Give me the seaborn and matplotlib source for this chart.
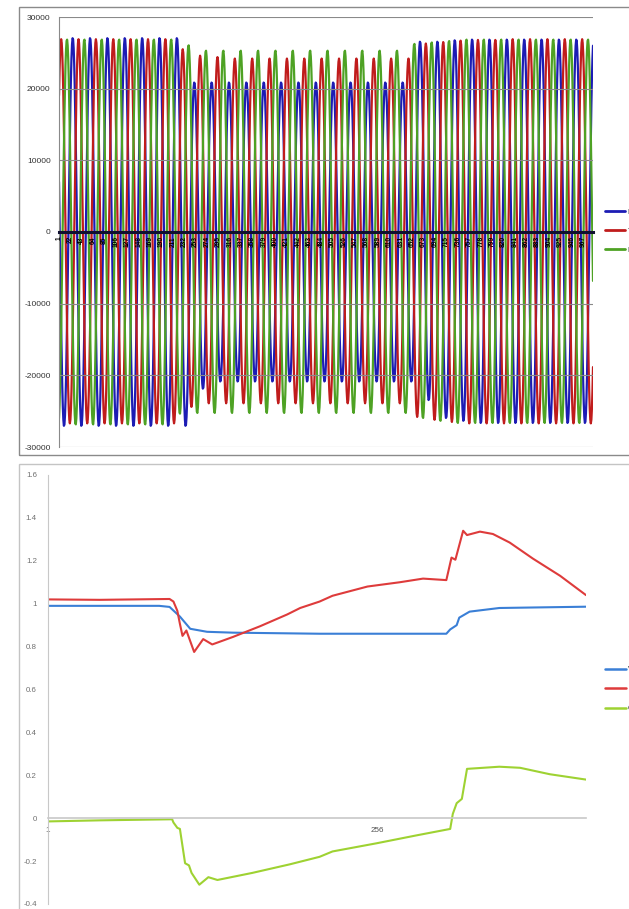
import numpy as np
import pandas as pd
import matplotlib
matplotlib.use("Agg")
import matplotlib.pyplot as plt
import seaborn as sns
from matplotlib.patches import Rectangle

# ---------------- top chart data (three-phase waveform) ----------------
N_SAMPLES = 985
HALF_CYCLE = 16                       # samples between a peak and the next trough
PHASE_LABELS = ["R", "Y", "B"]
PHASE_COLORS = ["#1c1cb4", "#c01c1c", "#4ea224"]
FIRST_PEAK = [26.33, 5.0, 15.67]      # sample of first positive peak, per phase

# positive peak / negative trough value of every cycle (31 cycles)
R_PEAKS = [27100] * 7 + [20900] * 13 + [26600, 26600, 26800] + [26900] * 8
R_TROUGHS = [-27100] * 7 + [-21900] + [-20900] * 12 + [-23500, -26000, -26400] + [-26700] * 8
Y_PEAKS = [26900] * 7 + [25500, 24600, 24400] + [24200] * 11 + [26300, 26500, 26700, 26800, 26800] + [26900] * 5
Y_TROUGHS = [-26700] * 7 + [-24400] + [-23900] * 12 + [-25800, -26200, -26500] + [-26700] * 8
B_PEAKS = [26900] * 7 + [26100] + [25350] * 12 + [26300, 26500, 26700] + [26900] * 8
B_TROUGHS = [-26900] * 6 + [-25400] + [-25300] * 13 + [-26000, -26400] + [-26700] * 9

TOP_XTICKS = [1, 22, 43, 64, 85, 106, 127, 148, 169, 190, 211, 232, 253, 274, 295, 316,
              337, 358, 379, 400, 421, 442, 463, 484, 505, 526, 547, 568, 589, 610, 631,
              652, 673, 694, 715, 736, 757, 778, 799, 820, 841, 862, 883, 904, 925, 946, 967]
TOP_YTICKS = [-30000, -20000, -10000, 0, 10000, 20000, 30000]

# ---------------- bottom chart data ----------------
BOT_LABELS = ["V", "P", "Q"]
BOT_COLORS = ["#3a7fd6", "#de3b3b", "#9ed232"]
V_X = [1, 87, 95, 103, 111, 124, 144, 211, 309, 312, 317, 319, 327, 350, 417]
V_Y = [0.99, 0.99, 0.985, 0.94, 0.883, 0.869, 0.865, 0.86, 0.86, 0.88, 0.90, 0.935, 0.963, 0.98, 0.986]
P_X = [1, 41, 95, 98, 101, 103, 105, 108, 114, 121, 128, 144, 165, 186, 196, 211, 221,
       248, 273, 291, 309, 313, 316, 322, 325, 335, 345, 358, 376, 397, 417]
P_Y = [1.02, 1.018, 1.022, 1.01, 0.967, 0.906, 0.85, 0.875, 0.775, 0.835, 0.81, 0.845, 0.895,
       0.95, 0.98, 1.01, 1.037, 1.08, 1.10, 1.117, 1.11, 1.215, 1.205, 1.34, 1.32, 1.336,
       1.325, 1.285, 1.21, 1.13, 1.04]
Q_X = [1, 41, 97, 98, 101, 103, 104, 107, 110, 112, 118, 125, 132, 159, 188, 211, 221,
       255, 286, 312, 314, 317, 321, 325, 350, 366, 389, 417]
Q_Y = [-0.015, -0.01, -0.005, -0.02, -0.045, -0.05, -0.09, -0.21, -0.22, -0.255, -0.31,
       -0.275, -0.288, -0.255, -0.215, -0.18, -0.155, -0.117, -0.08, -0.05, 0.02, 0.07,
       0.09, 0.23, 0.24, 0.235, 0.205, 0.18]
BOT_XTICKS = [1, 256]
BOT_YTICKS = [-0.4, -0.2, 0, 0.2, 0.4, 0.6, 0.8, 1, 1.2, 1.4, 1.6]


def phase_wave(first_peak, peaks, troughs, t):
    times = [first_peak - 2 * HALF_CYCLE, first_peak - HALF_CYCLE]
    vals = [peaks[0], troughs[0]]
    for k in range(len(peaks)):
        times += [first_peak + 2 * HALF_CYCLE * k, first_peak + 2 * HALF_CYCLE * k + HALF_CYCLE]
        vals += [peaks[k], troughs[k]]
    times.append(times[-1] + HALF_CYCLE)
    vals.append(peaks[-1])
    times = np.array(times)
    vals = np.array(vals, dtype=float)
    idx = np.searchsorted(times, t, side="right") - 1
    v0, v1 = vals[idx], vals[idx + 1]
    frac = (t - times[idx]) / HALF_CYCLE
    return (v0 + v1) / 2 + (v0 - v1) / 2 * np.cos(np.pi * frac)


sns.set_style("white")
plt.rcParams["font.family"] = ["Liberation Sans", "DejaVu Sans"]

W, H = 629, 909
fig = plt.figure(figsize=(W / 100, H / 100), dpi=100)

# chart frames
fig.patches.append(Rectangle((19 / W, 1 - 455 / H), 700 / W, 448 / H, transform=fig.transFigure,
                             fill=False, edgecolor="#8a8a8a", linewidth=1.0, zorder=0))
fig.patches.append(Rectangle((19 / W, -0.05), 700 / W, 1 - 464 / H + 0.05, transform=fig.transFigure,
                             fill=False, edgecolor="#c4c4c4", linewidth=1.0, zorder=0))

# ---------------- top chart ----------------
ax1 = fig.add_axes([59 / W, 1 - 447 / H, 534 / W, 430 / H])
t = np.arange(1, N_SAMPLES + 1, dtype=float)
frames = []
for lab, fp, pk, tr in zip(PHASE_LABELS, FIRST_PEAK,
                           [R_PEAKS, Y_PEAKS, B_PEAKS], [R_TROUGHS, Y_TROUGHS, B_TROUGHS]):
    frames.append(pd.DataFrame({"sample": t, "value": phase_wave(fp, pk, tr, t), "phase": lab}))
top_df = pd.concat(frames, ignore_index=True)
sns.lineplot(data=top_df, x="sample", y="value", hue="phase", hue_order=PHASE_LABELS,
             palette=PHASE_COLORS, estimator=None, sort=False, linewidth=1.6, ax=ax1)
ax1.spines["bottom"].set_position(("data", 0))
ax1.spines["bottom"].set_color("#101030")
ax1.spines["bottom"].set_linewidth(2.2)
ax1.spines["left"].set_color("#8a8a8a")
ax1.spines["left"].set_linewidth(0.8)
ax1.spines["top"].set_visible(False)
ax1.spines["right"].set_visible(False)
ax1.set_xlim(1, N_SAMPLES)
ax1.set_ylim(-30000, 30000)
ax1.set_yticks(TOP_YTICKS)
ax1.set_yticklabels([str(v) for v in TOP_YTICKS], fontsize=6, color="#333333")
ax1.set_xticks(TOP_XTICKS)
ax1.set_xticklabels([str(v) for v in TOP_XTICKS], rotation=90, fontsize=4.8,
                    color="#000000", fontweight="bold")
ax1.tick_params(axis="x", length=2, width=0.8, color="#111111", pad=1, direction="out")
ax1.tick_params(axis="y", length=2, width=0.6, color="#888888", pad=4)
ax1.set_xlabel("")
ax1.set_ylabel("")
for yv in TOP_YTICKS:
    if yv != 0:
        ax1.axhline(yv, color="#8a8a8a", linewidth=0.8, zorder=3)
ax1.set_axisbelow(False)
h1, l1 = ax1.get_legend_handles_labels()
ax1.legend(h1, l1, loc="center left", bbox_to_anchor=(605 / W, 1 - 231 / H),
           bbox_transform=fig.transFigure, frameon=False, fontsize=6, handlelength=2.4,
           handletextpad=0.3, labelspacing=1.3, borderaxespad=0, borderpad=0)
for line in ax1.get_legend().get_lines():
    line.set_linewidth(2.0)

# ---------------- bottom chart ----------------
ax2 = fig.add_axes([48 / W, 1 - 904 / H, 538 / W, 429 / H])
bot_df = pd.concat([
    pd.DataFrame({"x": V_X, "y": V_Y, "series": BOT_LABELS[0]}),
    pd.DataFrame({"x": P_X, "y": P_Y, "series": BOT_LABELS[1]}),
    pd.DataFrame({"x": Q_X, "y": Q_Y, "series": BOT_LABELS[2]}),
], ignore_index=True)
sns.lineplot(data=bot_df, x="x", y="y", hue="series", hue_order=BOT_LABELS,
             palette=BOT_COLORS, estimator=None, sort=False, linewidth=1.5, ax=ax2)
ax2.spines["bottom"].set_position(("data", 0))
ax2.spines["bottom"].set_color("#c8c8c8")
ax2.spines["bottom"].set_linewidth(1.2)
ax2.spines["left"].set_color("#c8c8c8")
ax2.spines["left"].set_linewidth(0.8)
ax2.spines["top"].set_visible(False)
ax2.spines["right"].set_visible(False)
ax2.set_xlim(1, 417)
ax2.set_ylim(-0.4, 1.6)
ax2.set_yticks(BOT_YTICKS)
ax2.set_yticklabels(["-0.4", "-0.2", "0", "0.2", "0.4", "0.6", "0.8", "1", "1.2", "1.4", "1.6"],
                    fontsize=5.7, color="#707070")
ax2.set_xticks(BOT_XTICKS)
ax2.set_xticklabels([str(v) for v in BOT_XTICKS], fontsize=5.8, color="#505050")
ax2.tick_params(axis="x", length=0, pad=6)
ax2.tick_params(axis="y", length=2, width=0.6, color="#b0b0b0", pad=6)
ax2.set_xlabel("")
ax2.set_ylabel("")
ax2.set_axisbelow(True)
h2, l2 = ax2.get_legend_handles_labels()
ax2.legend(h2, l2, loc="center left", bbox_to_anchor=(605 / W, 1 - 689 / H),
           bbox_transform=fig.transFigure, frameon=False, fontsize=5, handlelength=3.0,
           handletextpad=0.3, labelspacing=1.8, borderaxespad=0, borderpad=0)
for line in ax2.get_legend().get_lines():
    line.set_linewidth(1.8)

fig.savefig("out.png", dpi=100)
